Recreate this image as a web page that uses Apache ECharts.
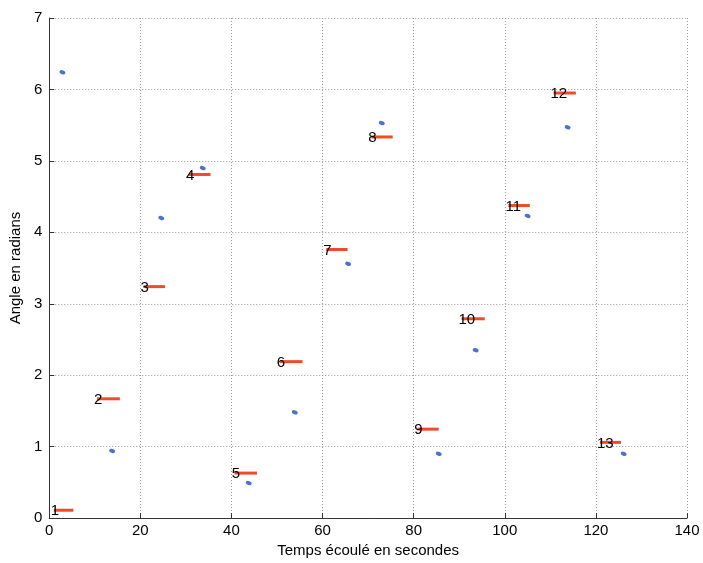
<!DOCTYPE html>
<html><head><meta charset="utf-8">
<script src="https://cdn.jsdelivr.net/npm/echarts@6/dist/echarts.min.js"></script>
<style>html,body{margin:0;padding:0;background:#fff}#c{width:703px;height:563px}</style>
</head><body><div id="c"></div>
<script>
// Red segments (numbered)
var segLabels = ['1','2','3','4','5','6','7','8','9','10','11','12','13'];
var segStart = [1.0, 10.5, 20.7, 30.7, 40.7, 50.6, 60.8, 70.7, 80.8, 90.5, 100.8, 110.7, 120.9];
var segEnd   = [5.3, 15.5, 25.4, 35.4, 45.6, 55.6, 65.5, 75.4, 85.5, 95.6, 105.5, 115.6, 125.5];
var segY     = [0.11, 1.67, 3.24, 4.81, 0.63, 2.19, 3.76, 5.335, 1.245, 2.79, 4.375, 5.95, 1.06];
// Blue points
var ptX = [2.9, 13.8, 24.6, 33.7, 43.8, 53.9, 65.6, 73.0, 85.5, 93.6, 105.0, 113.8, 126.1];
var ptY = [6.24, 0.94, 4.20, 4.90, 0.49, 1.48, 3.56, 5.53, 0.90, 2.35, 4.23, 5.47, 0.90];
// Axis ticks
var xTicks = [0, 20, 40, 60, 80, 100, 120, 140];
var yTicks = [0, 1, 2, 3, 4, 5, 6, 7];

var segData = segStart.map(function(s, i){ return [s, segEnd[i], segY[i], segLabels[i]]; });
var ptData = ptX.map(function(x, i){ return [x, ptY[i]]; });

var FONT = 'Liberation Sans, Arial, sans-serif';
var chart = echarts.init(document.getElementById('c'), null, {renderer:'canvas'});
chart.setOption({
  animation: false,
  backgroundColor: '#fff',
  grid: {left: 45, top: 18, right: 16, bottom: 39, containLabel: false},
  xAxis: {
    type: 'value', min: xTicks[0], max: xTicks[xTicks.length-1], interval: 20,
    name: 'Temps écoulé en secondes', nameLocation: 'middle', nameGap: 22,
    nameTextStyle: {fontFamily: FONT, fontSize: 15, color: '#000'},
    axisLine: {show: true, onZero: false, lineStyle: {color: '#333', width: 1}},
    axisTick: {show: true, inside: true, length: 5, lineStyle: {color: '#333'}},
    axisLabel: {fontFamily: FONT, fontSize: 15, color: '#000', margin: 5},
    splitLine: {show: true, lineStyle: {color: '#999', width: 1, type: [1, 2]}}
  },
  yAxis: {
    type: 'value', min: yTicks[0], max: yTicks[yTicks.length-1], interval: 1,
    name: 'Angle en radians', nameLocation: 'middle', nameGap: 20,
    nameTextStyle: {fontFamily: FONT, fontSize: 15, color: '#000'},
    axisLine: {show: true, onZero: false, lineStyle: {color: '#333', width: 1}},
    axisTick: {show: true, inside: true, length: 5, lineStyle: {color: '#333'}},
    axisLabel: {fontFamily: FONT, fontSize: 15, color: '#000', margin: 7},
    splitLine: {show: true, lineStyle: {color: '#999', width: 1, type: [1, 2]}}
  },
  series: [
    {
      type: 'custom',
      data: segData,
      encode: {x: [0, 1], y: 2},
      renderItem: function(params, api){
        var p0 = api.coord([api.value(0), api.value(2)]);
        var p1 = api.coord([api.value(1), api.value(2)]);
        return {
          type: 'group',
          children: [
            {type: 'line', shape: {x1: p0[0], y1: p0[1], x2: p1[0], y2: p1[1]},
             style: {stroke: '#ef4b28', lineWidth: 3}},
            {type: 'text', x: p0[0] - 3, y: p0[1] + 1,
             style: {text: segLabels[params.dataIndex], fill: '#000', font: '15px ' + FONT,
                     textAlign: 'left', textVerticalAlign: 'middle'}}
          ]
        };
      }
    },
    {
      type: 'scatter',
      data: ptData,
      symbol: 'circle',
      symbolSize: [6, 4],
      symbolRotate: -20,
      itemStyle: {color: '#1f50bd'}
    }
  ]
});
</script></body></html>
